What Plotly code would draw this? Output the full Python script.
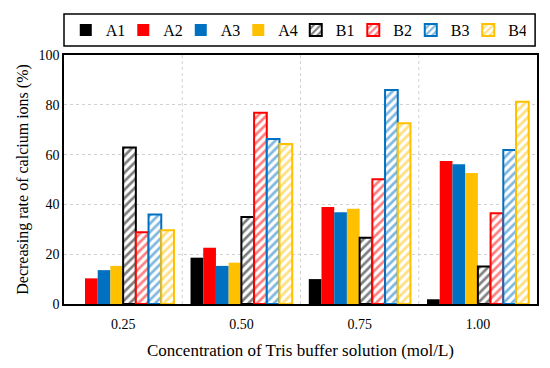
import plotly.graph_objects as go

categories = ["0.25", "0.50", "0.75", "1.00"]
series_names = ["A1", "A2", "A3", "A4", "B1", "B2", "B3", "B4"]
A1 = [0, 18.6, 10.0, 1.9]
A2 = [10.3, 22.6, 39.0, 57.4]
A3 = [13.6, 15.3, 36.8, 56.1]
A4 = [15.3, 16.6, 38.3, 52.6]
B1 = [62.9, 34.9, 26.6, 15.1]
B2 = [28.8, 76.8, 50.1, 36.4]
B3 = [35.9, 66.3, 85.9, 61.8]
B4 = [29.6, 64.3, 72.6, 81.2]
values = [A1, A2, A3, A4, B1, B2, B3, B4]
colors = ["#000000", "#FF0000", "#0070C0", "#FFC000"] * 2

fig = go.Figure()
for i, (name, vals) in enumerate(zip(series_names, values)):
    c = colors[i]
    if i < 4:
        fig.add_trace(go.Bar(x=categories, y=vals, name=name,
                             marker=dict(color=c, line=dict(color=c, width=0))))
    else:
        fig.add_trace(go.Bar(x=categories, y=vals, name=name,
                             marker=dict(color="white",
                                         line=dict(color=c, width=2),
                                         pattern=dict(shape="/", fgcolor=c, bgcolor="white",
                                                      size=6, solidity=0.45))))

font_family = "Liberation Serif, Times New Roman, serif"
fig.update_layout(
    width=542, height=360,
    margin=dict(l=56, r=13, t=47, b=64, autoexpand=False),
    paper_bgcolor="white", plot_bgcolor="white",
    barmode="group", bargap=0.14, bargroupgap=0,
    font=dict(family=font_family, size=14, color="black"),
    showlegend=True,
    legend=dict(orientation="h", x=0.49, xanchor="center", y=1.10, yanchor="middle",
                borderwidth=0, bgcolor="rgba(0,0,0,0)", font=dict(size=16),
                entrywidth=12.5, entrywidthmode="pixels", itemwidth=30,
                tracegroupgap=0),
    xaxis=dict(showline=True, linecolor="black", linewidth=1.5, mirror=True,
               ticks="", tickfont=dict(size=14), ticklabelstandoff=6,
               title=dict(text="Concentration of Tris buffer solution (mol/L)",
                          font=dict(size=17), standoff=14),
               showgrid=False),
    yaxis=dict(range=[0, 100], dtick=20, showline=True, linecolor="black", linewidth=1.5,
               mirror=True, ticks="", tickfont=dict(size=14),
               showgrid=True, gridcolor="#D0D0D0", griddash="dot", gridwidth=1,
               zeroline=False,
               title=dict(text="Decreasing rate of calcium ions (%)", font=dict(size=16),
                          standoff=6)),
)
# legend frame
fig.add_shape(type="rect", xref="paper", yref="paper", x0=0, x1=0.996, y0=1.036, y1=1.165,
              line=dict(color="black", width=1.5), fillcolor="rgba(0,0,0,0)")
# vertical dotted separators between categories
for xb in [0.5, 1.5, 2.5]:
    fig.add_shape(type="line", xref="x", yref="paper", x0=xb, x1=xb, y0=0, y1=1,
                  line=dict(color="#D0D0D0", width=1, dash="dot"), layer="below")

fig.write_html("out.html")
